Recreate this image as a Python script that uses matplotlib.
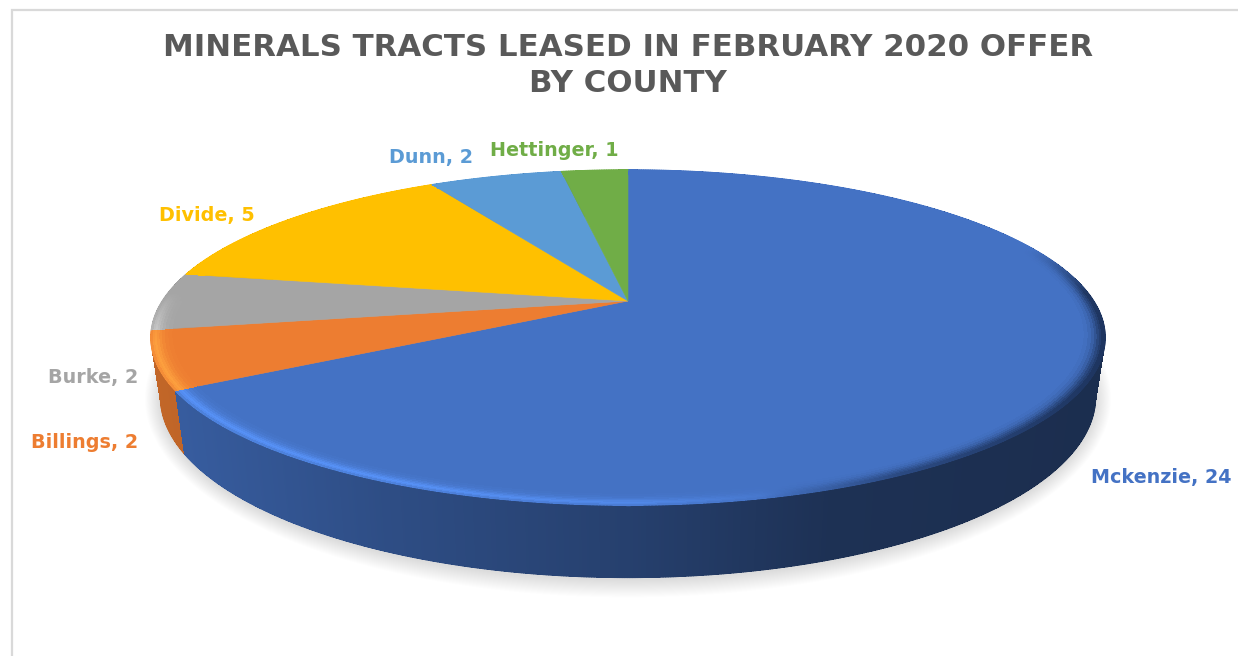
import numpy as np
import matplotlib
matplotlib.use("Agg")
from matplotlib import pyplot as plt
from matplotlib.collections import LineCollection, PolyCollection

# Tracts leased per county
counties = ["Mckenzie", "Billings", "Burke", "Divide", "Dunn", "Hettinger"]
tracts = [24, 2, 2, 5, 2, 1]
colors = ["#4472C4", "#ED7D31", "#A5A5A5", "#FFC000", "#5B9BD5", "#70AD47"]
title_lines = ["MINERALS TRACTS LEASED IN FEBRUARY 2020 OFFER", "BY COUNTY"]

# Where each county label sits
label_x = [1091, 138, 138, 159, 389, 490]
label_y = [478, 443, 377, 215, 158, 150]
label_ha = ["left", "right", "right", "left", "left", "left"]

plt.rcParams["font.family"] = ["DejaVu Sans"]

W, H = 1238, 656
fig = plt.figure(figsize=(W / 100, H / 100), dpi=100)
ax = fig.add_axes([0, 0, 1, 1])
ax.axis("off")

# Perspective view of the disc, apex at (628, 301)
K = 0.218


def top_face(angle, r=1.0):
    x = r * np.sin(angle)
    y = r * np.cos(angle)
    d = 1 + K * y
    return 628 + 465.6 * x / d, 301 - 159.6 * y / d


def bottom_face(angle):
    sx, sy = top_face(angle)
    return 628 + 0.98 * (sx - 628), sy + 56 + 0.08 * (sy - 301)


def edge_line(xs, ys, seg_colors, zorder):
    # antialiased stroke along an arc, one colour per segment
    pts = np.column_stack([xs, ys])
    segs = np.stack([pts[:-1], pts[1:]], axis=1)
    ax.add_collection(LineCollection(segs, colors=seg_colors, linewidths=1.0, capstyle="round", zorder=zorder))


edges = np.radians(np.cumsum([0] + tracts) / sum(tracts) * 360)

# Soft shadow under the disc
all_round = np.linspace(0, 2 * np.pi, 361)
bx, by = bottom_face(all_round)
for grow in np.arange(0.5, 18, 0.5):
    sx = 628 + (bx - 628) * (1 + grow / 520)
    sy = 395 + (by - 395) * (1 + grow / 175) + 2
    ax.fill(sx, sy, color="#706860", alpha=0.0045, lw=0, zorder=1)

# Side wall, darker toward the right; back slices go first so the front ones cover them
shade_x = [150, 190, 380, 628, 830, 1110]
shade_v = [0.82, 0.80, 0.68, 0.56, 0.43, 0.40]
for i in reversed(range(len(colors))):
    rgb = np.array(matplotlib.colors.to_rgb(colors[i]))
    a = np.linspace(edges[i], edges[i + 1], int(np.degrees(edges[i + 1] - edges[i])) * 4 + 2)
    tx, ty = top_face(a)
    lx, ly = bottom_face(a)
    quads = [[(tx[k], ty[k]), (tx[k + 1], ty[k + 1]), (lx[k + 1], ly[k + 1]), (lx[k], ly[k])]
             for k in range(len(a) - 1)]
    face = [np.clip(np.interp(0.5 * (tx[k] + tx[k + 1]), shade_x, shade_v) * rgb, 0, 1)
            for k in range(len(a) - 1)]
    ax.add_collection(PolyCollection(quads, facecolors=face, edgecolors="none", antialiased=False,
                                     zorder=2 + 0.01 * (len(colors) - i)))
    edge_line(lx, ly, face, 2 + 0.01 * (len(colors) - i))

# Top face of every slice
for i, color in enumerate(colors):
    a = np.linspace(edges[i], edges[i + 1], 120)
    tx, ty = top_face(a)
    ax.fill(np.r_[628, tx], np.r_[301, ty], color=color, lw=0.4, ec=color, zorder=3)

# Rounded bevel on the rim: bright on the left and front, dark on the right
rings = np.array([0.958, 0.966, 0.973, 0.979, 0.984, 0.989, 0.993, 0.997, 1.0])
light_weight = [0.06, 0.15, 0.32, 0.55, 0.80, 1.0, 0.85, 0.5]
dark_weight = [0.05, 0.15, 0.30, 0.50, 0.70, 0.85, 1.0, 1.0]
for i, color in enumerate(colors):
    rgb = np.array(matplotlib.colors.to_rgb(color))
    bright = np.clip(rgb * 1.32, 0, 1)
    a = np.linspace(edges[i], edges[i + 1], int(np.degrees(edges[i + 1] - edges[i])) * 3 + 2)
    quads, face = [], []
    for j in range(len(rings) - 1):
        ix, iy = top_face(a, rings[j])
        ox, oy = top_face(a, rings[j + 1])
        for k in range(len(a) - 1):
            quads.append([(ix[k], iy[k]), (ix[k + 1], iy[k + 1]), (ox[k + 1], oy[k + 1]), (ox[k], oy[k])])
            mid = 0.5 * (ix[k] + ix[k + 1])
            lit = np.clip((0.05 - np.cos(a[k])) / 0.3, 0, 1)
            shaded = np.clip((0.35 - np.cos(a[k])) / 0.3, 0, 1)
            light = np.interp(mid, [150, 400, 640, 800], [0.85, 0.85, 0.6, 0.0]) * light_weight[j] * lit
            dark = np.interp(mid, [760, 900, 1105], [0.0, 0.6, 0.9]) * dark_weight[j] * shaded
            c = rgb + (bright - rgb) * light
            c = c * (1 - dark) + np.array([0.10, 0.18, 0.33]) * dark
            face.append(np.clip(c, 0, 1))
    ax.add_collection(PolyCollection(quads, facecolors=face, edgecolors="none", antialiased=False, zorder=4))
    # the outermost ring gives the colours for the outer edge
    edge_line(ox, oy, face[-(len(a) - 1):], 4)

# County labels in the slice colours
for name, value, x, y, ha, color in zip(counties, tracts, label_x, label_y, label_ha, colors):
    ax.text(x, y, f"{name}, {value}", color=color, fontsize=13.8, fontweight="bold",
            ha=ha, va="center", zorder=5)

ax.text(628, 47, title_lines[0], color="#595959", fontsize=22.2, fontweight="bold",
        ha="center", va="center", zorder=5)
ax.text(628, 84, title_lines[1], color="#595959", fontsize=22.2, fontweight="bold",
        ha="center", va="center", zorder=5)

# Chart frame, only the top and left are in view
ax.plot([12, 12, W], [H, 10, 10], color="#D9D9D9", lw=1.6, solid_joinstyle="miter", zorder=0)

ax.set_xlim(0, W)
ax.set_ylim(H, 0)
fig.savefig("out.png", dpi=100)
